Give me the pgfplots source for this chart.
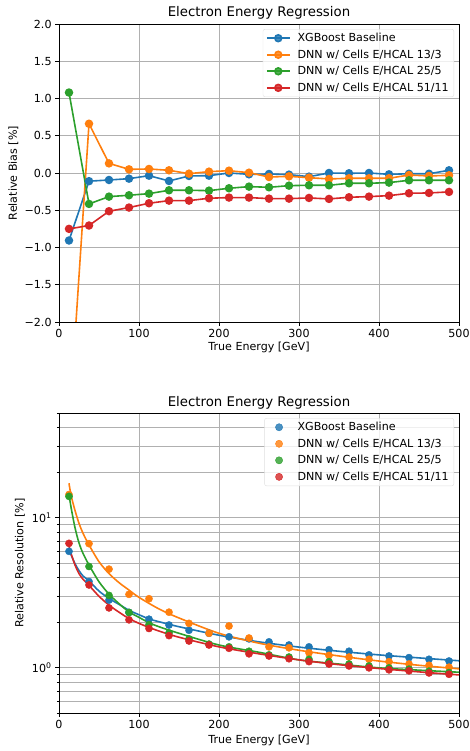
\documentclass[border=0pt]{standalone}
\usepackage{fontspec}
\setmainfont{DejaVu Sans}
\usepackage{pgfplots}
\pgfplotsset{compat=1.18}
\definecolor{cB}{HTML}{1F77B4}
\definecolor{cO}{HTML}{FF7F0E}
\definecolor{cG}{HTML}{2CA02C}
\definecolor{cR}{HTML}{D62728}
\definecolor{gridc}{HTML}{B0B0B0}
\pgfplotsset{
  mplbase/.style={
    scale only axis, width=400pt, xmin=0, xmax=500,
    xtick={0,100,...,500},
    tick align=outside, tick pos=left,
    major tick length=3.9pt, minor tick length=2.2pt,
    every tick/.style={black, line width=0.9pt},
    axis line style={line width=0.9pt},
    major grid style={gridc, line width=0.9pt},
    minor grid style={gridc, line width=0.9pt},
    ticklabel style={font=\fontsize{11.1}{13}\selectfont},
    /pgf/number format/assume math mode=true,
    label style={font=\fontsize{11.1}{13}\selectfont},
    every axis title/.style={at={(0.5,1)}, anchor=center, font=\fontsize{13.3}{15}\selectfont},
    legend style={draw=gray!25, rounded corners=2pt, fill=white, fill opacity=0.8, text opacity=1,
      font=\fontsize{11.1}{13}\selectfont, anchor=north east, inner xsep=3pt, inner ysep=2pt,
      row sep=2.6pt, /tikz/every odd column/.append style={column sep=5pt}},
    legend cell align=left,
  },
}
\begin{document}
\begin{tikzpicture}
\useasboundingbox (0pt,0pt) rectangle (470pt,751pt);
% ---------------- top panel ----------------
\begin{axis}[mplbase, at={(59pt,429pt)}, anchor=south west, height=298pt,
  ymin=-2, ymax=2, ytick={-2,-1.5,-1,-0.5,0,0.5,1,1.5,2},
  yticklabels={−2.0,−1.5,−1.0,−0.5,0.0,0.5,1.0,1.5,2.0},
  grid=major,
  title={Electron Energy Regression}, title style={at={(axis description cs:0.5,1.037)}},
  xlabel={True Energy [GeV]}, xlabel style={at={(axis description cs:0.5,-0.084)}, anchor=center},
  ylabel={Relative Bias [\%]}, ylabel style={at={(axis description cs:-0.114,0.5)}, anchor=center},
  legend style={at={(0.9875,0.983)}},
  legend image code/.code={\draw[mark repeat=2,mark phase=2] plot coordinates {(0pt,0pt)(11.5pt,0pt)(23pt,0pt)};},
  every axis plot/.append style={line width=1.6pt, mark=*, mark size=3.4pt, mark options={solid}},
]
\addplot[cB, mark options={fill=cB}] coordinates {(12.5,-0.906)(37.5,-0.11)(62.5,-0.094)(87.5,-0.076)(112.5,-0.036)(137.5,-0.107)(162.5,-0.04)(187.5,-0.036)(212.5,0.0)(237.5,-0.018)(262.5,-0.013)(287.5,-0.022)(312.5,-0.049)(337.5,0.0)(362.5,-0.004)(387.5,0.0)(412.5,-0.018)(437.5,-0.01)(462.5,-0.01)(487.5,0.036)};
\addlegendentry{XGBoost Baseline}
\addplot[cO, mark options={fill=cO}] coordinates {(12.5,-3.43)(37.5,0.661)(62.5,0.129)(87.5,0.049)(112.5,0.054)(137.5,0.036)(162.5,-0.009)(187.5,0.018)(212.5,0.031)(237.5,0.004)(262.5,-0.054)(287.5,-0.045)(312.5,-0.063)(337.5,-0.08)(362.5,-0.071)(387.5,-0.071)(412.5,-0.071)(437.5,-0.027)(462.5,-0.04)(487.5,-0.031)};
\addlegendentry{DNN w/ Cells E/HCAL 13/3}
\addplot[cG, mark options={fill=cG}] coordinates {(12.5,1.08)(37.5,-0.415)(62.5,-0.317)(87.5,-0.299)(112.5,-0.277)(137.5,-0.232)(162.5,-0.232)(187.5,-0.237)(212.5,-0.205)(237.5,-0.183)(262.5,-0.192)(287.5,-0.17)(312.5,-0.165)(337.5,-0.165)(362.5,-0.138)(387.5,-0.138)(412.5,-0.129)(437.5,-0.098)(462.5,-0.098)(487.5,-0.098)};
\addlegendentry{DNN w/ Cells E/HCAL 25/5}
\addplot[cR, mark options={fill=cR}] coordinates {(12.5,-0.75)(37.5,-0.705)(62.5,-0.513)(87.5,-0.464)(112.5,-0.406)(137.5,-0.371)(162.5,-0.371)(187.5,-0.339)(212.5,-0.33)(237.5,-0.33)(262.5,-0.344)(287.5,-0.344)(312.5,-0.335)(337.5,-0.348)(362.5,-0.326)(387.5,-0.317)(412.5,-0.304)(437.5,-0.272)(462.5,-0.268)(487.5,-0.254)};
\addlegendentry{DNN w/ Cells E/HCAL 51/11}
\end{axis}
% ---------------- bottom panel ----------------
\begin{axis}[mplbase, at={(59pt,38pt)}, anchor=south west, height=300pt,
  ymode=log, ymin=0.5, ymax=50, ytick={1,10},
  yticklabels={10\textsuperscript{0},10\textsuperscript{1}},
  minor ytick={0.5,0.6,0.7,0.8,0.9,2,3,4,5,6,7,8,9,20,30,40,50},
  grid=both, xminorgrids=false,
  title={Electron Energy Regression}, title style={at={(axis description cs:0.5,1.034)}},
  xlabel={True Energy [GeV]}, xlabel style={at={(axis description cs:0.5,-0.09)}, anchor=center},
  ylabel={Relative Resolution [\%]}, ylabel style={at={(axis description cs:-0.0975,0.5)}, anchor=center},
  legend style={at={(0.9875,0.983)}},
  legend image code/.code={\path[draw=none] (0pt,0pt) -- (23pt,0pt); \draw[draw=none, mark repeat=2, mark phase=2] plot coordinates {(0pt,0pt)(11.5pt,0pt)(23pt,0pt)};},
]
\addplot[only marks, mark=*, mark size=3.6pt, cB, mark options={fill=cB, draw=cB}] coordinates {(12.5,5.98)(37.5,3.76)(62.5,2.83)(87.5,2.34)(112.5,2.11)(137.5,1.93)(162.5,1.78)(187.5,1.70)(212.5,1.61)(237.5,1.56)(262.5,1.49)(287.5,1.42)(312.5,1.38)(337.5,1.32)(362.5,1.29)(387.5,1.22)(412.5,1.20)(437.5,1.17)(462.5,1.14)(487.5,1.11)};
\addlegendentry{XGBoost Baseline}
\addplot[forget plot, cB, line width=1.6pt, smooth] coordinates {(12.5,6.1)(20,4.95)(25,4.45)(30,4.1)(37.5,3.8)(50,3.25)(62.5,2.9)(75,2.65)(87.5,2.42)(100,2.26)(112.5,2.12)(125,2.03)(150,1.88)(200,1.65)(250,1.49)(300,1.375)(350,1.29)(400,1.22)(450,1.165)(500,1.115)};
\addplot[only marks, mark=*, mark size=3.6pt, cO, mark options={fill=cO, draw=cO}] coordinates {(12.5,14.3)(37.5,6.73)(62.5,4.55)(87.5,3.09)(112.5,2.89)(137.5,2.35)(162.5,1.98)(187.5,1.70)(212.5,1.90)(237.5,1.58)(262.5,1.38)(287.5,1.36)(312.5,1.26)(337.5,1.21)(362.5,1.18)(387.5,1.14)(412.5,1.10)(437.5,1.06)(462.5,1.04)(487.5,1.01)};
\addlegendentry{DNN w/ Cells E/HCAL 13/3}
\addplot[forget plot, cO, line width=1.6pt, smooth] coordinates {(12.5,17.0)(15,14.2)(20,11.2)(25,9.2)(30,7.9)(37.5,6.6)(50,5.1)(62.5,4.25)(75,3.7)(87.5,3.3)(100,2.95)(125,2.47)(150,2.15)(200,1.70)(250,1.46)(300,1.31)(350,1.20)(400,1.11)(450,1.04)(500,0.985)};
\addplot[only marks, mark=*, mark size=3.6pt, cG, mark options={fill=cG, draw=cG}] coordinates {(12.5,13.9)(37.5,4.74)(62.5,3.04)(87.5,2.34)(112.5,1.94)(137.5,1.71)(162.5,1.56)(187.5,1.44)(212.5,1.38)(237.5,1.29)(262.5,1.22)(287.5,1.18)(312.5,1.14)(337.5,1.10)(362.5,1.06)(387.5,1.03)(412.5,1.00)(437.5,0.98)(462.5,0.95)(487.5,0.93)};
\addlegendentry{DNN w/ Cells E/HCAL 25/5}
\addplot[forget plot, cG, line width=1.6pt, smooth] coordinates {(12.5,14.3)(15,11.8)(20,8.6)(25,6.8)(30,5.8)(37.5,4.85)(50,3.75)(62.5,3.1)(75,2.68)(87.5,2.36)(100,2.17)(112.5,2.0)(125,1.88)(150,1.70)(200,1.42)(250,1.27)(300,1.13)(350,1.06)(400,1.0)(450,0.965)(500,0.935)};
\addplot[only marks, mark=*, mark size=3.6pt, cR, mark options={fill=cR, draw=cR}] coordinates {(12.5,6.76)(37.5,3.57)(62.5,2.51)(87.5,2.09)(112.5,1.83)(137.5,1.64)(162.5,1.51)(187.5,1.42)(212.5,1.35)(237.5,1.24)(262.5,1.20)(287.5,1.15)(312.5,1.10)(337.5,1.06)(362.5,1.03)(387.5,1.00)(412.5,0.97)(437.5,0.955)(462.5,0.925)(487.5,0.906)};
\addlegendentry{DNN w/ Cells E/HCAL 51/11}
\addplot[forget plot, cR, line width=1.6pt, smooth] coordinates {(12.5,6.5)(15,5.8)(20,4.85)(25,4.25)(30,3.9)(37.5,3.55)(50,3.0)(62.5,2.62)(75,2.35)(87.5,2.13)(100,1.98)(112.5,1.86)(125,1.76)(150,1.60)(200,1.38)(250,1.24)(300,1.13)(350,1.05)(400,0.99)(450,0.94)(500,0.897)};
\end{axis}
\end{tikzpicture}
\end{document}
